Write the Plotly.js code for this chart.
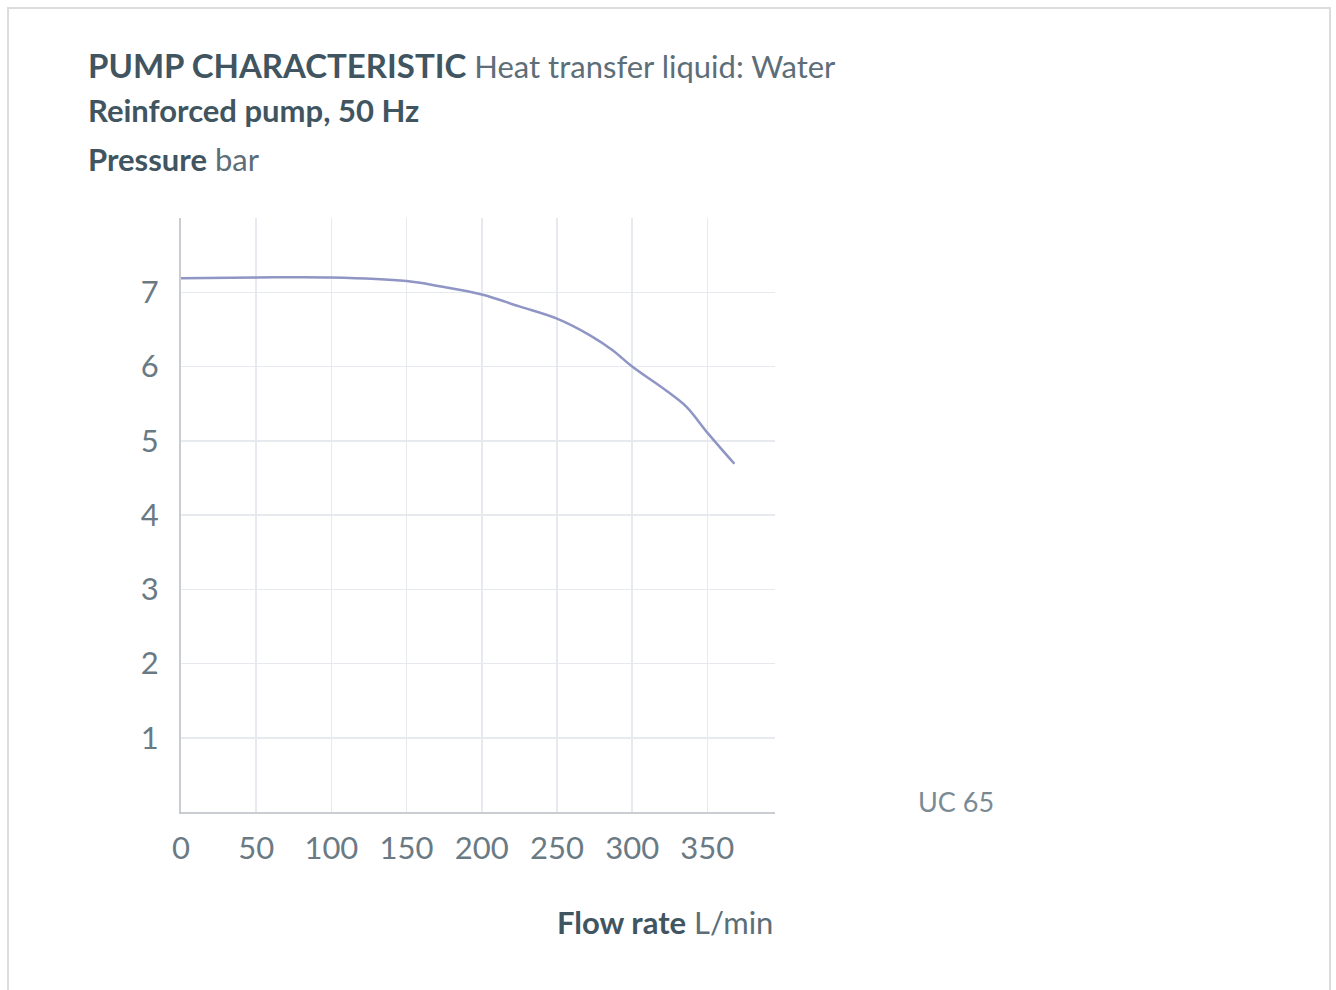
<!DOCTYPE html>
<html>
<head>
<meta charset="utf-8">
<script src="https://cdn.plot.ly/plotly-3.0.1.min.js"></script>
<style>
  html, body { margin: 0; padding: 0; background: #ffffff; }
  #chart { width: 1336px; height: 990px; }
</style>
</head>
<body>
<div id="chart"></div>
<script>
// Flow rate (L/min) and pressure (bar)
const flowRate = [0, 50, 100, 150, 172, 200, 225, 250, 272, 287, 300, 323, 336, 350, 368];
const pressure = [7.19, 7.2, 7.2, 7.15, 7.08, 6.97, 6.81, 6.645, 6.42, 6.22, 6.0, 5.67, 5.46, 5.11, 4.69];

const xTicks = [0, 50, 100, 150, 200, 250, 300, 350];
const yTicks = [1, 2, 3, 4, 5, 6, 7];

const titleLine1Bold = "PUMP CHARACTERISTIC";
const titleLine1Rest = "Heat transfer liquid: Water";
const titleLine2 = "Reinforced pump, 50 Hz";
const yTitleBold = "Pressure";
const yTitleUnit = "bar";
const xTitleBold = "Flow rate";
const xTitleUnit = "L/min";
const seriesLabel = "UC 65";

const FONT = "Lato, 'Open Sans', sans-serif";
const DARK = "#415561";
const MID = "#5d6e79";

const trace = {
  x: flowRate,
  y: pressure,
  type: "scatter",
  mode: "lines",
  line: { color: "#8f95c4", width: 2.5, shape: "spline", smoothing: 1 },
  hoverinfo: "skip",
  showlegend: false
};

const layout = {
  width: 1336,
  height: 990,
  margin: { l: 181, r: 561, t: 218, b: 178 },
  paper_bgcolor: "#ffffff",
  plot_bgcolor: "#ffffff",
  font: { family: FONT, color: MID },
  showlegend: false,
  xaxis: {
    range: [0, 395],
    tickvals: xTicks,
    ticktext: xTicks.map(String),
    showgrid: true,
    gridcolor: "#e6e9ed",
    gridwidth: 1.5,
    zeroline: false,
    showline: true,
    linecolor: "#c9cdd2",
    linewidth: 2,
    ticks: "",
    ticklabelstandoff: 8,
    tickfont: { family: FONT, size: 31, color: "#6a7a84" },
    fixedrange: true
  },
  yaxis: {
    range: [0, 8],
    tickvals: yTicks,
    ticktext: yTicks.map(String),
    showgrid: true,
    gridcolor: "#e6e9ed",
    gridwidth: 1.5,
    zeroline: false,
    showline: true,
    linecolor: "#c9cdd2",
    linewidth: 2,
    ticks: "",
    ticklabelstandoff: 14,
    tickfont: { family: FONT, size: 31, color: "#6a7a84" },
    fixedrange: true
  },
  annotations: [
    {
      xref: "paper", yref: "paper", x: -0.16, y: 1.2576,
      xanchor: "left", yanchor: "middle", showarrow: false,
      text: "<b><span style='font-size:33px'>" + titleLine1Bold + "</span></b> <span style='color:" + MID + "'>" + titleLine1Rest + "</span>",
      font: { family: FONT, size: 31, color: DARK }
    },
    {
      xref: "paper", yref: "paper", x: -0.16, y: 1.1818,
      xanchor: "left", yanchor: "middle", showarrow: false,
      text: "<b>" + titleLine2 + "</b>",
      font: { family: FONT, size: 31, color: DARK }
    },
    {
      xref: "paper", yref: "paper", x: -0.16, y: 1.0993,
      xanchor: "left", yanchor: "middle", showarrow: false,
      text: "<b>" + yTitleBold + "</b> <span style='color:" + MID + "'>" + yTitleUnit + "</span>",
      font: { family: FONT, size: 31, color: DARK }
    },
    {
      xref: "paper", yref: "paper", x: 1.0, y: -0.186,
      xanchor: "right", yanchor: "middle", showarrow: false,
      text: "<b>" + xTitleBold + "</b> <span style='color:" + MID + "'>" + xTitleUnit + "</span>",
      font: { family: FONT, size: 31, color: DARK }
    },
    {
      xref: "paper", yref: "paper", x: 1.305, y: 0.0185,
      xanchor: "center", yanchor: "middle", showarrow: false,
      text: seriesLabel,
      font: { family: FONT, size: 27, color: "#7a8a94" }
    }
  ],
  shapes: [
    {
      type: "rect", xref: "paper", yref: "paper",
      x0: -0.2912, x1: 1.9343, y0: -0.31, y1: 1.3535,
      line: { color: "#dcdcdc", width: 2 },
      fillcolor: "rgba(0,0,0,0)", layer: "below"
    }
  ]
};

Plotly.newPlot("chart", [trace], layout, { displayModeBar: false, staticPlot: true });
</script>
</body>
</html>
